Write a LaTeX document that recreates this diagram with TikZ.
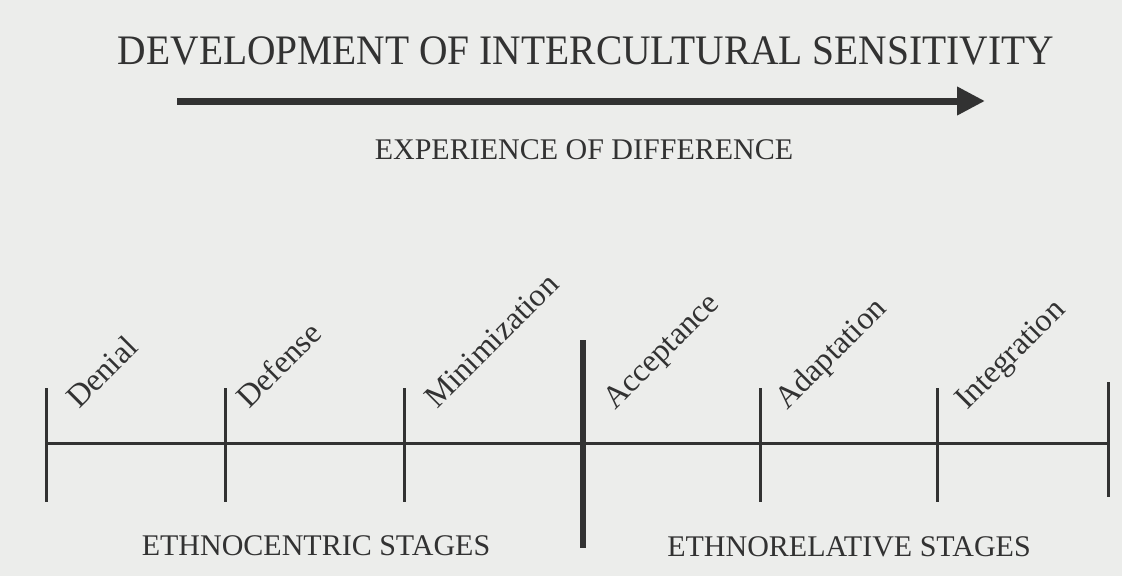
\documentclass[tikz,border=0pt]{standalone}
\usepackage{fontspec}
\setmainfont{Liberation Serif}
\usetikzlibrary{arrows.meta}
\definecolor{paper}{RGB}{236,237,235}
\definecolor{ink}{RGB}{50,50,50}

\begin{document}
\begin{tikzpicture}
  [x=1pt,y=-1pt,
   every node/.style={inner sep=0pt,text=ink},
   caps/.style={font=\fontsize{30}{36}\selectfont},
   stagename/.style={font=\fontsize{32}{38}\selectfont,rotate=45,anchor=base west},
   tick/.style={draw=ink,line width=3pt},
   bigtick/.style={draw=ink,line width=6pt}]

  % paper
  \fill[paper] (0,0) rectangle (1122,576);
  \useasboundingbox (0,0) rectangle (1122,576);

  %%%%%%%%%%%%%%%%%%%%%% TOP %%%%%%%%%%%%%%%%%%%%%%

  \node[font=\fontsize{42}{48}\selectfont,xscale=0.94] (title) at (586,51) {DEVELOPMENT OF INTERCULTURAL SENSITIVITY};

  \coordinate (exp_1) at (177,101);
  \coordinate (exp_2) at (985,101);
  \draw[ink,line width=7pt,-{Triangle[length=28pt,width=27pt]}] (exp_1) -- (exp_2);

  \node[caps] (exper) at (584,150) {EXPERIENCE OF DIFFERENCE};

  %%%%%%%%%%%%%%%%%%%%%% SCALE %%%%%%%%%%%%%%%%%%%%%%

   \coordinate (s1_t) at (46,388);    \coordinate (s1_b) at (46,502);
   \coordinate (s2_t) at (225,388);   \coordinate (s2_b) at (225,502);
   \coordinate (s3_t) at (404,388);   \coordinate (s3_b) at (404,502);
   \coordinate (s4_t) at (583,340);   \coordinate (s4_b) at (583,548);
   \coordinate (s5_t) at (760,388);   \coordinate (s5_b) at (760,502);
   \coordinate (s6_t) at (937,388);   \coordinate (s6_b) at (937,502);
   \coordinate (s7_t) at (1108,382);  \coordinate (s7_b) at (1108,497);

   \coordinate (ax_1) at (46,443);
   \coordinate (ax_7) at (1108,443);

   \draw[tick] (ax_1) -- (ax_7);

   \foreach \fromS/\toS in {s1_t/s1_b,s2_t/s2_b,s3_t/s3_b,s5_t/s5_b,s6_t/s6_b,s7_t/s7_b}
    \draw[tick] (\fromS) -- (\toS);

   \draw[bigtick] (s4_t) -- (s4_b);

   \node[stagename] (denial) at (79,410)   {Denial};
   \node[stagename] (defense) at (249,410)  {Defense};
   \node[stagename] (minim) at (437,410)    {Minimization};
   \node[stagename] (accept) at (615,411)   {Acceptance};
   \node[stagename] (adapt) at (787,411)    {Adaptation};
   \node[stagename] (integr) at (967,411)   {Integration};

  %%%%%%%%%%%%%%%%%%%%%% BOTTOM %%%%%%%%%%%%%%%%%%%%%%

   \node[caps] (centric) at (316,546)  {ETHNOCENTRIC STAGES};
   \node[caps] (relative) at (849,547) {ETHNORELATIVE STAGES};

\end{tikzpicture}
\end{document}
